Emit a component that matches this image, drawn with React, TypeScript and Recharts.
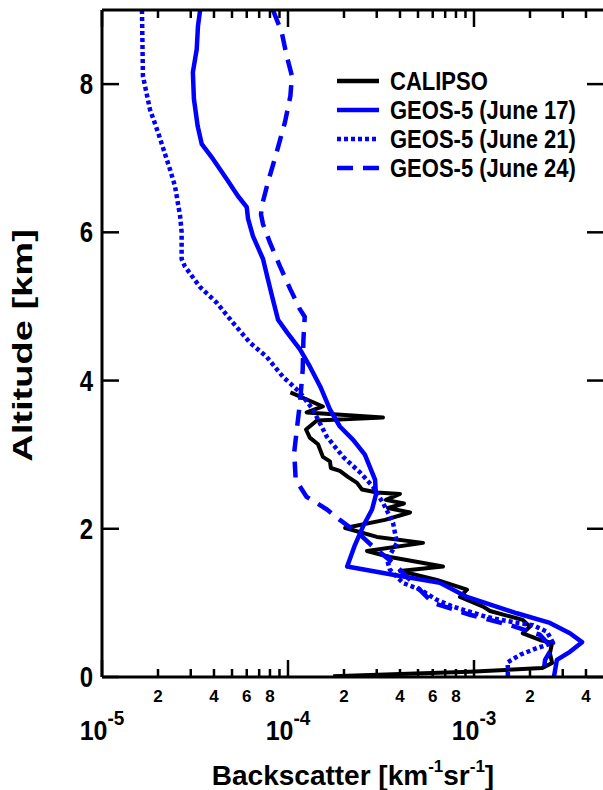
import React from 'react';
import { LineChart, Line, XAxis, YAxis, Legend } from 'recharts';

// [backscatter km-1 sr-1, altitude km]
const calipso: [number, number][] = [
  [1.03e-4, 3.84], [1.54e-4, 3.65], [1.26e-4, 3.57], [3.24e-4, 3.5], [1.43e-4, 3.46],
  [1.25e-4, 3.34], [1.31e-4, 3.23], [1.45e-4, 3.14], [1.54e-4, 2.97], [1.68e-4, 2.91],
  [1.7e-4, 2.82], [1.9e-4, 2.78], [2.1e-4, 2.7], [2.35e-4, 2.62], [2.5e-4, 2.53],
  [3.01e-4, 2.49], [4.0e-4, 2.47], [3.36e-4, 2.39], [4.2e-4, 2.34], [3.45e-4, 2.28],
  [4.53e-4, 2.22], [3.32e-4, 2.12], [2.03e-4, 2.01], [3.01e-4, 1.89], [5.32e-4, 1.81],
  [2.66e-4, 1.7], [3.53e-4, 1.62], [6.81e-4, 1.49], [4.0e-4, 1.43], [6.32e-4, 1.31],
  [9.17e-4, 1.18], [8.41e-4, 1.08], [1.12e-3, 0.95], [1.22e-3, 0.89], [1.83e-3, 0.77],
  [2.0e-3, 0.68], [1.83e-3, 0.59], [2.26e-3, 0.5], [2.63e-3, 0.46], [2.56e-3, 0.32],
  [2.63e-3, 0.19], [2.32e-3, 0.12], [9.5e-4, 0.07], [4.0e-4, 0.04], [1.75e-4, 0.01],
];

const geosJun17: [number, number][] = [
  [3.37e-5, 9.0], [3.28e-5, 8.78], [3.23e-5, 8.47], [3.08e-5, 8.16], [3.12e-5, 7.8],
  [3.27e-5, 7.43], [3.44e-5, 7.19], [3.95e-5, 6.99], [4.68e-5, 6.72], [5.38e-5, 6.49],
  [6.0e-5, 6.34], [6.1e-5, 6.18], [6.48e-5, 5.95], [7.34e-5, 5.64], [7.81e-5, 5.36],
  [8.3e-5, 5.09], [8.84e-5, 4.82], [9.88e-5, 4.65], [1.16e-4, 4.42], [1.31e-4, 4.19],
  [1.49e-4, 3.92], [1.68e-4, 3.61], [1.9e-4, 3.38], [2.24e-4, 3.2], [2.59e-4, 3.0],
  [2.94e-4, 2.66], [2.97e-4, 2.46], [2.83e-4, 2.26], [2.53e-4, 2.03], [2.29e-4, 1.78],
  [2.08e-4, 1.49], [3.67e-4, 1.38], [6.56e-4, 1.27], [9.17e-4, 1.08], [1.7e-3, 0.86],
  [2.56e-3, 0.73], [3.28e-3, 0.59], [3.81e-3, 0.47], [3.28e-3, 0.34], [2.79e-3, 0.23],
  [2.69e-3, 0.0],
];

const geosJun21: [number, number][] = [
  [1.64e-5, 9.0], [1.66e-5, 8.11], [1.81e-5, 7.66], [2.0e-5, 7.35], [2.32e-5, 6.85],
  [2.47e-5, 6.62], [2.63e-5, 6.22], [2.68e-5, 6.0], [2.68e-5, 5.64], [2.79e-5, 5.54],
  [3.37e-5, 5.26], [4.14e-5, 5.05], [5.06e-5, 4.78], [6.25e-5, 4.51], [7.68e-5, 4.32],
  [9.4e-5, 4.05], [1.16e-4, 3.84], [1.36e-4, 3.61], [1.62e-4, 3.24], [1.98e-4, 2.97],
  [2.44e-4, 2.76], [2.86e-4, 2.57], [3.24e-4, 2.35], [3.67e-4, 2.08], [3.85e-4, 1.81],
  [3.41e-4, 1.58], [3.53e-4, 1.45], [4.15e-4, 1.27], [5.13e-4, 1.18], [6.32e-4, 1.04],
  [7.71e-4, 0.95], [1.17e-3, 0.81], [1.62e-3, 0.74], [2.07e-3, 0.7], [2.47e-3, 0.61],
  [2.66e-3, 0.46], [2.18e-3, 0.39], [1.77e-3, 0.3], [1.52e-3, 0.2], [1.52e-3, 0.0],
];

const geosJun24: [number, number][] = [
  [8.3e-5, 9.0], [9.25e-5, 8.7], [9.84e-5, 8.38], [1.05e-4, 8.11], [1.03e-4, 7.84],
  [9.64e-5, 7.49], [8.69e-5, 7.08], [7.81e-5, 6.68], [7.22e-5, 6.35], [7.16e-5, 6.24],
  [7.34e-5, 6.11], [8.0e-5, 5.86], [9.06e-5, 5.54], [1.03e-4, 5.23], [1.16e-4, 4.96],
  [1.23e-4, 4.86], [1.21e-4, 4.55], [1.2e-4, 4.15], [1.16e-4, 3.7], [1.12e-4, 3.38],
  [1.08e-4, 3.03], [1.1e-4, 2.66], [1.26e-4, 2.43], [1.62e-4, 2.26], [1.9e-4, 2.12],
  [2.44e-4, 1.92], [2.86e-4, 1.76], [3.67e-4, 1.54], [4.82e-4, 1.24], [6.02e-4, 1.0],
  [9.51e-4, 0.84], [1.56e-3, 0.7], [2.26e-3, 0.57], [2.63e-3, 0.39], [2.41e-3, 0.23],
  [2.35e-3, 0.0],
];

const altTicks = [0, 2, 4, 6, 8];
const decades = [-5, -4, -3];
const mantissas = [1, 2, 3, 4, 5, 6, 7, 8, 9];
const labelledMantissas = [2, 4, 6, 8];
const bsDomain = [1e-5, 5e-3];
const bsTicks = decades
  .flatMap((e) => mantissas.map((m) => m * Math.pow(10, e)))
  .filter((v) => v < 4.5e-3);

const toPoints = (rows: [number, number][]) => rows.map(([bs, alt]) => ({ bs, alt }));

const BLUE = '#0000ff';
const series = [
  { name: 'CALIPSO', color: '#000000', dash: undefined, width: 4, rows: calipso },
  { name: 'GEOS-5 (June 17)', color: BLUE, dash: undefined, width: 4.5, rows: geosJun17 },
  { name: 'GEOS-5 (June 21)', color: BLUE, dash: '4 3', width: 4.5, rows: geosJun21 },
  { name: 'GEOS-5 (June 24)', color: BLUE, dash: '16 10', width: 4.5, rows: geosJun24 },
];

const splitTick = (v: number) => {
  const exp = Math.floor(Math.log10(v) + 1e-6);
  const mant = Math.round(v / Math.pow(10, exp));
  return { exp, mant };
};

const BottomTick = (props: any) => {
  const { x, y, payload } = props;
  const { exp, mant } = splitTick(payload.value);
  const major = mant === 1;
  return (
    <g>
      <line x1={x} x2={x} y1={y} y2={y - (major ? 17 : 8)} stroke="#000" strokeWidth={2.5} />
      {labelledMantissas.includes(mant) && (
        <text x={x} y={y + 25} textAnchor="middle" fontSize={17} fontWeight="bold">
          {mant}
        </text>
      )}
      {major && (
        <g transform={`translate(${x},${y + 63}) scale(1,1.1)`}>
          <text x={0} y={0} textAnchor="middle" fontSize={25} fontWeight="bold">
            10
            <tspan dy={-14} fontSize={19}>{`${exp}`}</tspan>
          </text>
        </g>
      )}
    </g>
  );
};

const TopTick = (props: any) => {
  const { x, y, payload } = props;
  const { mant } = splitTick(payload.value);
  return <line x1={x} x2={x} y1={y} y2={y + (mant === 1 ? 17 : 8)} stroke="#000" strokeWidth={2.5} />;
};

const LeftTick = (props: any) => {
  const { x, y, payload } = props;
  return (
    <g>
      <line x1={x} x2={x + 17} y1={y} y2={y} stroke="#000" strokeWidth={2.5} />
      <g transform={`translate(${x - 9},${y + 10}) scale(1,1.2)`}>
        <text x={0} y={0} textAnchor="end" fontSize={24} fontWeight="bold">
          {payload.value}
        </text>
      </g>
    </g>
  );
};

const RightTick = (props: any) => {
  const { x, y } = props;
  return <line x1={x - 17} x2={x} y1={y} y2={y} stroke="#000" strokeWidth={2.5} />;
};

const XTitle = (props: any) => {
  const { x, y, width } = props.viewBox;
  return (
    <text x={x + width / 2} y={y + 108} textAnchor="middle" fontSize={28} fontWeight="bold">
      Backscatter [km
      <tspan dy={-13} fontSize={17}>-1</tspan>
      <tspan dy={13}>sr</tspan>
      <tspan dy={-13} fontSize={17}>-1</tspan>
      <tspan dy={13}>]</tspan>
    </text>
  );
};

const YTitle = (props: any) => {
  const { y, height } = props.viewBox;
  return (
    <g transform={`translate(32,${y + height / 2 + 2}) rotate(-90) scale(1.36,1)`}>
      <text x={0} y={0} textAnchor="middle" fontSize={28} fontWeight="bold">
        Altitude [km]
      </text>
    </g>
  );
};

const LegendBox = () => (
  <svg width={272} height={130} style={{ overflow: 'visible' }}>
    {series.map((s, i) => {
      const cy = 13 + i * 29;
      return (
        <g key={s.name}>
          <line x1={7} x2={49} y1={cy} y2={cy} stroke={s.color} strokeWidth={4.5} strokeDasharray={s.dash} />
          <g transform={`translate(60,${cy + 9}) scale(1,1.17)`}>
            <text x={0} y={0} fontSize={22} fontWeight="bold" fill="#000">
              {s.name}
            </text>
          </g>
        </g>
      );
    })}
  </svg>
);

export default function App() {
  return (
    <div
      style={{
        position: 'absolute',
        left: 0,
        top: 0,
        width: 603,
        height: 790,
        overflow: 'hidden',
        background: '#fff',
        fontFamily: '"Liberation Sans", Arial, sans-serif',
      }}
    >
      <LineChart width={620} height={790} margin={{ top: 9, right: 15, bottom: 112, left: 101 }}>
        <XAxis
          xAxisId="bottom"
          type="number"
          dataKey="bs"
          scale="log"
          domain={bsDomain}
          allowDataOverflow
          ticks={bsTicks}
          interval={0}
          height={1}
          tickSize={0}
          tickMargin={0}
          tickLine={false}
          tick={BottomTick}
          axisLine={{ stroke: '#000', strokeWidth: 3 }}
          label={{ content: XTitle }}
        />
        <XAxis
          xAxisId="top"
          orientation="top"
          type="number"
          dataKey="bs"
          scale="log"
          domain={bsDomain}
          allowDataOverflow
          ticks={bsTicks}
          interval={0}
          height={1}
          tickSize={0}
          tickMargin={0}
          tickLine={false}
          tick={TopTick}
          axisLine={{ stroke: '#000', strokeWidth: 3 }}
        />
        <YAxis
          yAxisId="left"
          type="number"
          dataKey="alt"
          domain={[0, 9]}
          allowDataOverflow
          ticks={altTicks}
          interval={0}
          width={1}
          tickSize={0}
          tickMargin={0}
          tickLine={false}
          tick={LeftTick}
          axisLine={{ stroke: '#000', strokeWidth: 3 }}
          label={{ content: YTitle }}
        />
        <YAxis
          yAxisId="right"
          orientation="right"
          type="number"
          dataKey="alt"
          domain={[0, 9]}
          allowDataOverflow
          ticks={altTicks}
          interval={0}
          width={1}
          tickSize={0}
          tickMargin={0}
          tickLine={false}
          tick={RightTick}
          axisLine={false}
        />
        <Legend
          layout="horizontal"
          verticalAlign="middle"
          align="center"
          content={LegendBox}
          wrapperStyle={{ position: 'absolute', left: 330, top: 68, width: 272, height: 130 }}
        />
        {series.map((s) => (
          <Line
            key={s.name}
            name={s.name}
            xAxisId="bottom"
            yAxisId="left"
            data={toPoints(s.rows)}
            dataKey="alt"
            stroke={s.color}
            strokeWidth={s.width}
            strokeDasharray={s.dash}
            strokeLinejoin="round"
            dot={false}
            activeDot={false}
            isAnimationActive={false}
          />
        ))}
      </LineChart>
    </div>
  );
}
